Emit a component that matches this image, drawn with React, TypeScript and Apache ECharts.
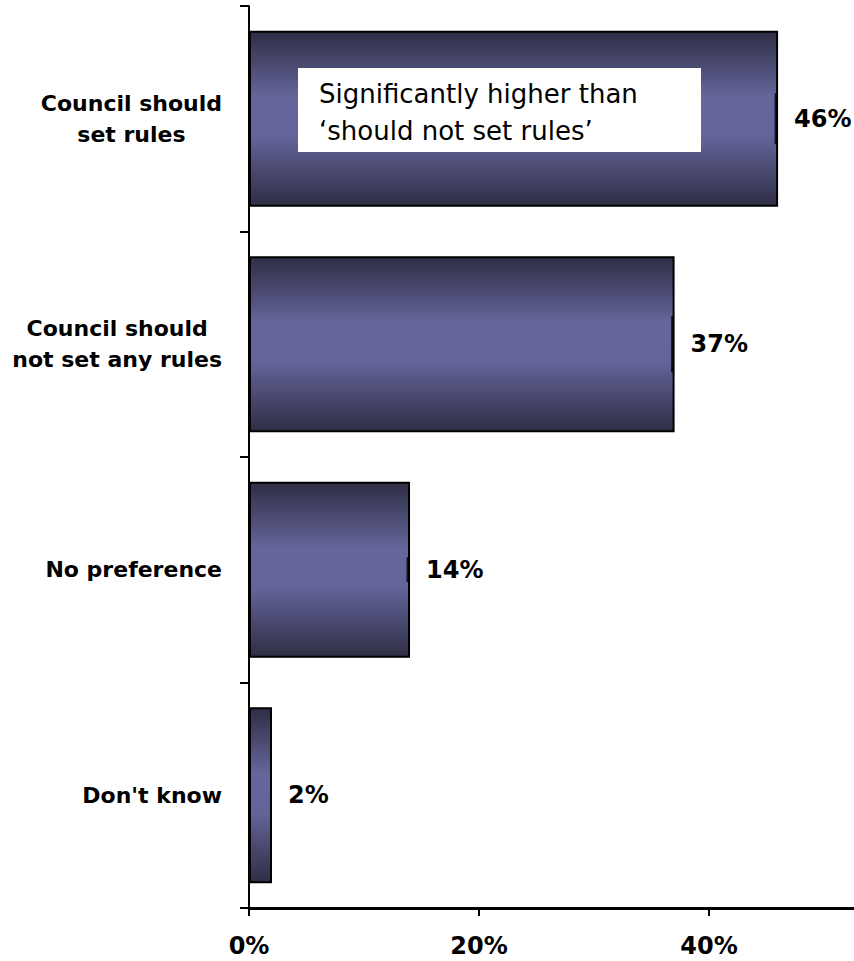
import React, { useEffect, useRef } from "react";
import * as echarts from "echarts";

const categories = ["Council should\nset rules", "Council should\nnot set any rules", "No preference", "Don't know"];
const values = [46, 37, 14, 2];
const markLengths = [51, 56, 25, 0];
const xTicks = [0, 20, 40];
const xMax = 52.6;
const noteLines = ["Significantly higher than", "\u2018should not set rules\u2019"];

export default function App() {
  const ref = useRef<HTMLDivElement>(null);
  useEffect(() => {
    if (!ref.current) return;
    const chart = echarts.init(ref.current, null, { renderer: "svg" });
    const barGradient = new echarts.graphic.LinearGradient(0, 0, 0, 1, [
      { offset: 0, color: "#2e2e46" },
      { offset: 0.38, color: "#66669c" },
      { offset: 0.6, color: "#64649a" },
      { offset: 1, color: "#2e2e46" },
    ]);
    chart.setOption({
      animation: false,
      grid: { left: 249, top: 6, bottom: 53, right: 0, containLabel: false },
      xAxis: {
        type: "value",
        min: 0,
        max: xMax,
        interval: 20,
        splitLine: { show: false },
        axisLine: { show: true, lineStyle: { color: "#000", width: 3 } },
        axisTick: { show: true, length: 8, customValues: xTicks, lineStyle: { color: "#000", width: 2 } },
        axisLabel: {
          margin: 26,
          customValues: xTicks,
          formatter: "{value}%",
          color: "#000",
          fontFamily: "DejaVu Sans",
          fontWeight: "bold",
          fontSize: 24,
        },
      },
      yAxis: {
        type: "category",
        inverse: true,
        data: categories,
        axisLine: { show: true, lineStyle: { color: "#000", width: 2 } },
        axisTick: { show: true, length: 9, lineStyle: { color: "#000", width: 2 } },
        axisLabel: {
          margin: 27,
          color: "#000",
          fontFamily: "DejaVu Sans",
          fontWeight: "bold",
          fontSize: 22,
          lineHeight: 31,
          formatter: (v: string) =>
            v
              .split("\n")
              .map((l) => "{c|" + l + "}")
              .join("\n"),
          rich: {
            c: {
              align: "center",
              color: "#000",
              fontFamily: "DejaVu Sans",
              fontWeight: "bold",
              fontSize: 22,
              lineHeight: 31,
            },
          },
        },
      },
      series: [
        {
          type: "bar",
          data: values,
          barCategoryGap: "22%",
          itemStyle: { color: barGradient, borderColor: "#000", borderWidth: 2 },
          label: {
            show: true,
            position: "right",
            distance: 16,
            formatter: "{c}%",
            color: "#000",
            fontFamily: "DejaVu Sans",
            fontWeight: "bold",
            fontSize: 24,
          },
        },
        {
          type: "scatter",
          data: values.map((v, i) => [v, i]),
          symbol: "rect",
          symbolSize: (_v: any, p: any) => [3, markLengths[p.dataIndex]],
          symbolOffset: [-2, 0],
          itemStyle: { color: "#000" },
          z: 5,
          silent: true,
        },
      ],
      graphic: [
        {
          type: "rect",
          shape: { x: 298, y: 68, width: 403, height: 84 },
          style: { fill: "#ffffff" },
          z: 10,
        },
        {
          type: "text",
          x: 319,
          y: 75,
          z: 11,
          style: {
            text: noteLines.join("\n"),
            fill: "#000",
            fontFamily: "DejaVu Sans",
            fontSize: 26,
            lineHeight: 37,
            verticalAlign: "top",
            align: "left",
          },
        },
      ],
    });
    return () => chart.dispose();
  }, []);
  return (
    <div
      ref={ref}
      style={{ position: "absolute", left: 0, top: 0, width: 854, height: 961, background: "#fff" }}
    />
  );
}
